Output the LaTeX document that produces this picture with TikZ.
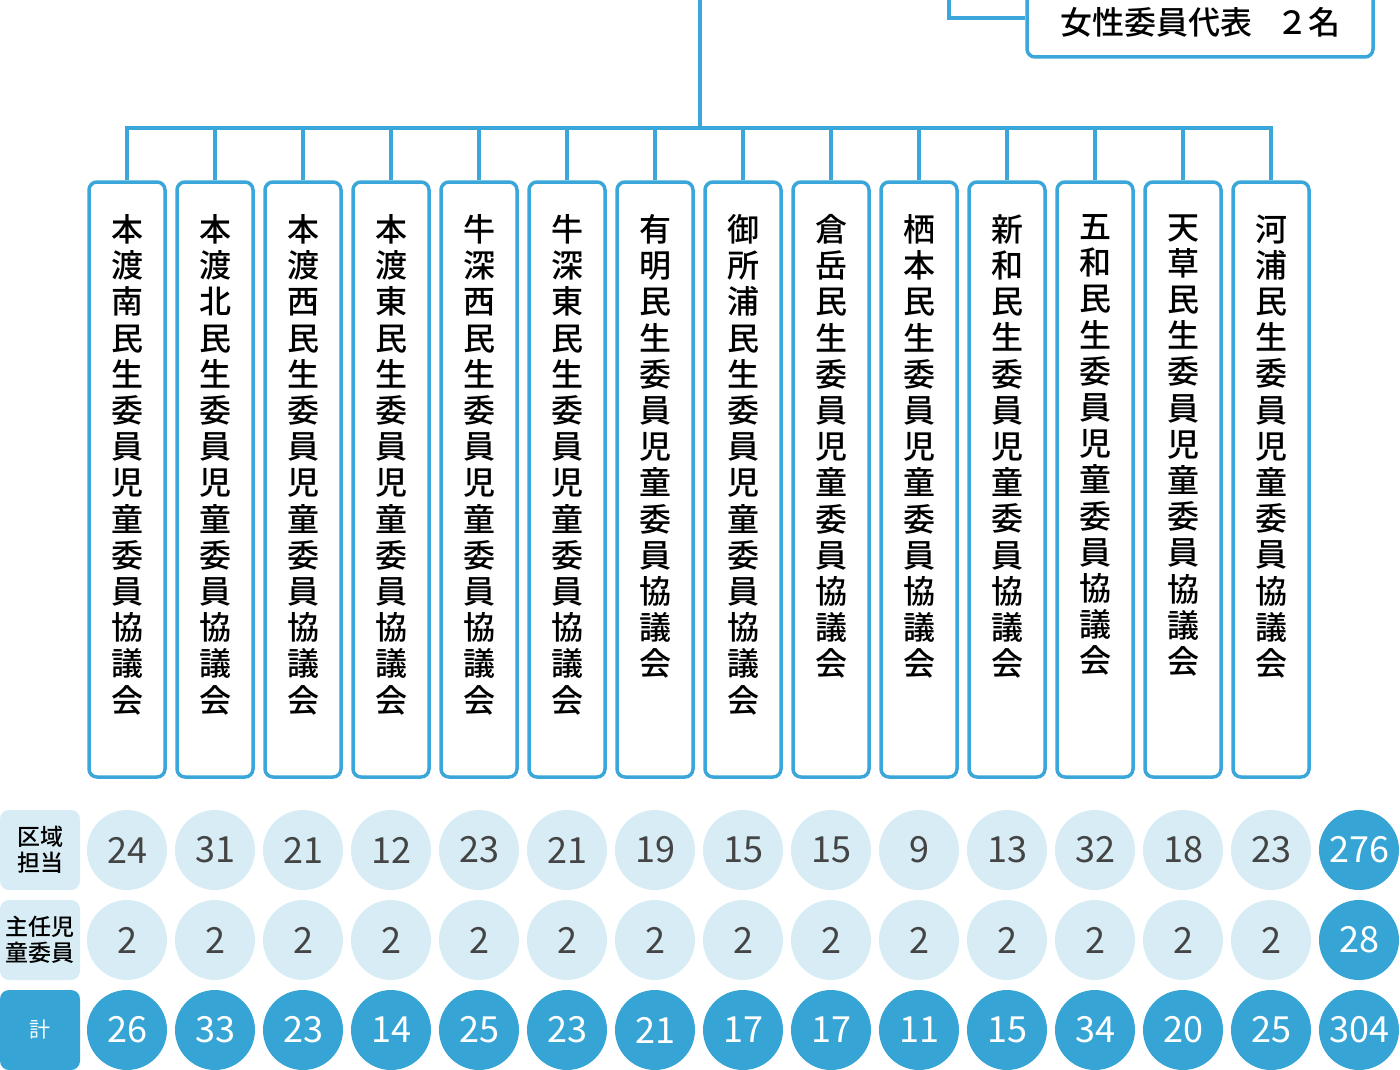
\documentclass[tikz,border=0pt]{standalone}
\usepackage{fontspec}
\setmainfont{Noto Sans CJK JP}
\newfontfamily\jpmed[UprightFont={* Medium}]{Noto Sans CJK JP}
\usepackage{tikz}
\usetikzlibrary{positioning}
\definecolor{lineblue}{HTML}{3AA6D9}
\definecolor{darkblue}{HTML}{36A5D6}
\definecolor{paleblue}{HTML}{D7ECF5}
\definecolor{numgray}{HTML}{444444}
\makeatletter
\newcommand\tate[1]{\vbox{\baselineskip=36.2pt\lineskiplimit=-100pt\tate@i#1\@nil}}
\def\tate@i#1{\ifx#1\@nil\else\hbox to 34pt{\hss#1\hss}\expandafter\tate@i\fi}
\makeatother

\begin{document}
\begin{tikzpicture}[x=1pt, y=-1pt,
    conn/.style={draw=lineblue, line width=3.5pt},
    bb/.style={%
      rectangle, draw=lineblue, line width=3.5pt, rounded corners=8pt,
      fill=white, minimum width=76pt, minimum height=595pt, inner sep=0pt
    },
    wbox/.style={%
      rectangle, draw=lineblue, line width=3.5pt, rounded corners=8pt,
      fill=white, minimum width=346pt, minimum height=78pt, inner sep=0pt,
      font=\fontsize{32}{32}\selectfont\jpmed
    },
    lbl/.style={inner sep=0pt, font=\fontsize{32}{32}\selectfont\jpmed},
    pale/.style={%
      circle, fill=paleblue, minimum size=80pt, inner sep=0pt,
      text=numgray, font=\fontsize{36}{36}\selectfont
    },
    dark/.style={%
      circle, fill=darkblue, minimum size=80pt, inner sep=0pt,
      text=white, font=\fontsize{36}{36}\selectfont
    },
    rowpale/.style={%
      rectangle, rounded corners=9pt, fill=paleblue, minimum size=80pt,
      inner sep=0pt, align=center,
      font=\fontsize{23}{26}\selectfont\jpmed
    },
    rowdark/.style={%
      rectangle, rounded corners=9pt, fill=darkblue, minimum size=80pt,
      inner sep=0pt, text=white, font=\fontsize{21}{21}\selectfont
    }
]
    \useasboundingbox (0,0) rectangle (1400,1070);

    % council boxes
    \foreach \n [count=\i] in {%
        本渡南民生委員児童委員協議会, 本渡北民生委員児童委員協議会,
        本渡西民生委員児童委員協議会, 本渡東民生委員児童委員協議会,
        牛深西民生委員児童委員協議会, 牛深東民生委員児童委員協議会,
        有明民生委員児童委員協議会, 御所浦民生委員児童委員協議会,
        倉岳民生委員児童委員協議会, 栖本民生委員児童委員協議会,
        新和民生委員児童委員協議会, 五和民生委員児童委員協議会,
        天草民生委員児童委員協議会, 河浦民生委員児童委員協議会} {
      \node[bb] (d\i) at ({127+88*(\i-1)}, 479.5) {};
      \node[lbl, anchor=north] (t\i) at ([yshift=-34pt]d\i.north)
        {\expandafter\tate\expandafter{\n}};
    }

    % women representatives
    \node[wbox] (wom) at (1200,18)
      {\raisebox{-4pt}[\height][\depth]{女性委員代表\hspace{0.75em}２名}};
    \coordinate (wtop) at (949,0);
    \draw[conn] (wtop) |- (wom.west);

    % tree lines
    \coordinate (top) at (700,0);
    \coordinate (bus) at (700,128);
    \draw[conn] (top) -- (bus);
    \draw[conn] (d1.north) |- (bus) -| (d14.north);
    \foreach \i in {2,...,13}
      \draw[conn] (d\i.north) -- (d\i.north |- bus);

    % row labels
    \node[rowpale] (ra) at (40,850) {区域\\担当};
    \node[rowpale] (rb) at (40,940) {主任児\\童委員};
    \node[rowdark] (rc) at (40,1030) {計};

    % numbers
    \foreach \a/\c [count=\i] in {24/26, 31/33, 21/23, 12/14, 23/25, 21/23,
        19/21, 15/17, 15/17, 9/11, 13/15, 32/34, 18/20, 23/25} {
      \node[pale] (a\i) at ({127+88*(\i-1)}, 850) {\a};
      \node[pale] (b\i) at ({127+88*(\i-1)}, 940) {2};
      \node[dark] (c\i) at ({127+88*(\i-1)}, 1030) {\c};
    }
    \node[dark] (a15) at (1359,850)  {276};
    \node[dark] (b15) at (1359,940)  {28};
    \node[dark] (c15) at (1359,1030) {304};

  \end{tikzpicture}
\end{document}
